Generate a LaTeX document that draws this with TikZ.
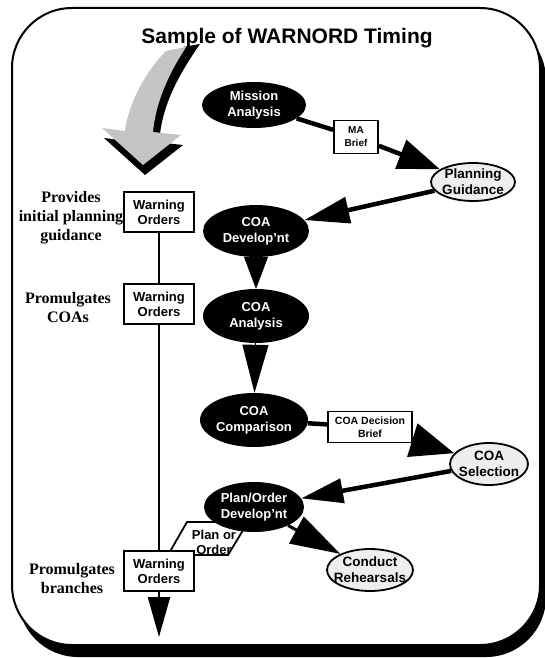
\documentclass[tikz,border=0pt]{standalone}
\usepackage{fontspec}
\setmainfont{Liberation Serif}
\newfontfamily\arialfont{Liberation Sans}
\usetikzlibrary{shapes.geometric,arrows.meta}
\definecolor{arrowgrey}{HTML}{C4C4C4}
\definecolor{paleell}{HTML}{EEEEEE}
\begin{document}
\begin{tikzpicture}[x=1pt,y=-1pt,
  blackell/.style={ellipse, fill=black, inner sep=0pt},
  greyell/.style={ellipse, draw, line width=1.8pt, fill=paleell, inner sep=0pt},
  ellw/.style={font=\arialfont\bfseries\fontsize{13}{16}\selectfont, text=white, align=center},
  ellb/.style={font=\arialfont\bfseries\fontsize{13.5}{16}\selectfont, text=black, align=center},
  wbox/.style={draw, line width=1.8pt, fill=white, minimum width=70pt, minimum height=40pt,
    inner sep=1pt, align=center, font=\arialfont\bfseries\fontsize{13}{15}\selectfont},
  brief/.style={draw, line width=1.8pt, fill=white, inner sep=1pt, align=center,
    font=\arialfont\bfseries\fontsize{10}{13}\selectfont},
  potext/.style={align=center, font=\arialfont\bfseries\fontsize{13}{15}\selectfont},
  sidetext/.style={align=center, font=\bfseries\fontsize{16}{19}\selectfont},
  thickline/.style={line width=4.5pt},
]
\useasboundingbox (0,0) rectangle (545,658);

% frame with drop shadow
\fill[black, rounded corners=60pt] (18,20) rectangle (546,657);
\draw[line width=2pt, fill=white, rounded corners=60pt] (12,8) rectangle (540,645);

% curved grey arrow with its shadow
\fill[black, shift={(2,10)}] (166,51) -- (186,47) .. controls (170,72) and (156,100) .. (153,132)
  -- (181,135) -- (143,165) -- (102,128) -- (125,131)
  .. controls (128,105) and (145,72) .. (166,51) -- cycle;
\fill[black] (183,47) -- (200,44) .. controls (182,70) and (164,100) .. (160,134)
  -- (153,132) .. controls (156,100) and (170,72) .. (186,47) -- cycle;
\fill[arrowgrey] (166,51) -- (186,47) .. controls (170,72) and (156,100) .. (153,132)
  -- (181,135) -- (143,165) -- (102,128) -- (125,131)
  .. controls (128,105) and (145,72) .. (166,51) -- cycle;

% title
\node[font=\arialfont\bfseries\fontsize{21}{25}\selectfont, anchor=base] (title) at (287,44)
  {Sample of WARNORD Timing};

% "Plan or Order" parallelogram
\draw[line width=1.8pt, fill=white] (168,555) -- (187,522) -- (248,522) -- (228,555) -- cycle;
\node[potext] (po) at (214,542) {Plan or\\Order};

% process ellipses
\node[blackell, minimum width=104pt, minimum height=46pt,
  label={[ellw]center:Mission\\Analysis}] (ma) at (254,105) {};
\node[brief, minimum width=44pt, minimum height=33pt] (mab) at (356,137) {MA\\Brief};
\node[greyell, minimum width=84pt, minimum height=38pt,
  label={[ellb]center:Planning\\Guidance}] (pg) at (473,182) {};
\node[blackell, minimum width=106pt, minimum height=52pt,
  label={[ellw]center:COA\\Develop’nt}] (cd) at (256,231) {};
\node[blackell, minimum width=106pt, minimum height=54pt,
  label={[ellw]center:COA\\Analysis}] (ca) at (256,316) {};
\node[blackell, minimum width=108pt, minimum height=54pt,
  label={[ellw]center:COA\\Comparison}] (cc) at (254,420) {};
\node[brief, minimum width=84pt, minimum height=31pt,
  font=\arialfont\bfseries\fontsize{10.5}{13}\selectfont] (cdb) at (370,427) {COA Decision\\Brief};
\node[greyell, minimum width=78pt, minimum height=42pt,
  label={[ellb]center:COA\\Selection}] (cs) at (489,464) {};
\node[blackell, minimum width=100pt, minimum height=50pt,
  label={[ellw]center:Plan/Order\\Develop’nt}] (pod) at (254,507) {};
\node[greyell, minimum width=86pt, minimum height=42pt,
  label={[ellb]center:Conduct\\Rehearsals}] (cr) at (370,570) {};

% warning order boxes
\node[wbox] (w1) at (159,212) {Warning\\Orders};
\node[wbox] (w2) at (159,304) {Warning\\Orders};
\node[wbox] (w3) at (159,571) {Warning\\Orders};
\coordinate (wend) at (159,637);

% side notes
\node[sidetext] (n1) at (71,218) {Provides\\initial planning\\guidance};
\node[sidetext] (n2) at (68,308) {Promulgates\\COAs};
\node[sidetext] (n3) at (72,579) {Promulgates\\branches};

% timeline
\draw[line width=2pt] (w1) -- (w2);
\draw[line width=2pt] (w2) -- (w3);
\draw[line width=2pt, -{Triangle[length=40pt,width=22pt]}] (w3) -- (wend);

% process flow
\draw[thickline] (ma) -- (mab);
\draw[thickline, -{Triangle[length=42pt,width=30pt]}] (mab) -- (pg);
\draw[thickline, -{Triangle[length=45pt,width=26pt]}] (pg) -- (cd);
\draw[line width=1pt, -{Triangle[length=32pt,width=24pt]}] (cd) -- (ca);
\draw[line width=1pt, -{Triangle[length=48pt,width=26pt]}] (ca) -- (cc);
\draw[thickline] (cc) -- (cdb);
\draw[thickline, -{Triangle[length=44pt,width=34pt]}] (cdb) -- (cs);
\draw[thickline, -{Triangle[length=42pt,width=24pt]}] (cs) -- (pod);
\draw[line width=3pt, -{Triangle[length=50pt,width=30pt]}] (pod) -- (cr);
\end{tikzpicture}
\end{document}
